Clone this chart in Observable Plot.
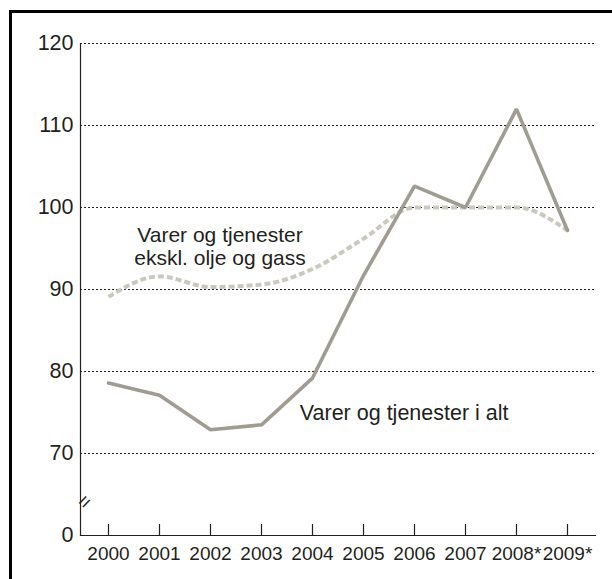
<!DOCTYPE html>
<html><head><meta charset="utf-8">
<script src="https://cdn.jsdelivr.net/npm/d3@7"></script>
<script src="https://cdn.jsdelivr.net/npm/@observablehq/plot@0.6"></script>
<style>
body{margin:0;background:#fff;width:612px;height:579px;overflow:hidden;position:relative;font-family:"Liberation Sans",Arial,sans-serif;}
#chart{position:absolute;left:0;top:0;}
.bt{position:absolute;left:9px;top:10px;width:603px;height:2.5px;background:#000;}
.bl{position:absolute;left:9px;top:10px;width:2.5px;height:569px;background:#000;}
</style></head><body>
<div id="chart"></div><div class="bt"></div><div class="bl"></div>
<script>
const years = ["2000","2001","2002","2003","2004","2005","2006","2007","2008*","2009*"];
const totalValues = [78.6, 77.1, 72.9, 73.5, 79.2, 91.7, 102.6, 100.0, 112.0, 97.2];
const exOilGasValues = [89.1, 91.6, 90.3, 90.6, 92.5, 96.2, 100.0, 100.0, 100.0, 97.2];
const yTicks = [60, 70, 80, 90, 100, 110, 120];
const yTickLabels = ["0", "70", "80", "90", "100", "110", "120"];
const gridValues = [70, 80, 90, 100, 110, 120];
const labelTotal = "Varer og tjenester i alt";
const labelExOilGas = "Varer og tjenester\nekskl. olje og gass";

const total = years.map((y, i) => ({year: y, value: totalValues[i]}));
const exOil = years.map((y, i) => ({year: y, value: exOilGasValues[i]}));
const ink = "#231f20";

const chart = Plot.plot({
  width: 612,
  height: 579,
  marginLeft: 80,
  marginRight: 17,
  marginTop: 43,
  marginBottom: 44,
  style: {background: "#fff", color: ink, fontFamily: '"Liberation Sans", Arial, sans-serif', overflow: "visible"},
  x: {type: "point", domain: years, padding: 0.5},
  y: {domain: [60, 120]},
  marks: [
    Plot.ruleY(gridValues, {stroke: ink, strokeWidth: 1, strokeDasharray: "2,2"}),
    Plot.frame({anchor: "left", stroke: ink, strokeWidth: 1.2}),
    Plot.frame({anchor: "bottom", stroke: ink, strokeWidth: 1.2}),
    Plot.ruleX(years, {x: d => d, y1: 60, y2: 60, insetTop: -11, stroke: ink, strokeWidth: 1.2}),
    Plot.axisY({ticks: yTicks, tickFormat: d => yTickLabels[yTicks.indexOf(d)], tickSize: 0, tickPadding: 7, fontSize: 21.5, label: null}),
    Plot.axisX({tickSize: 0, tickPadding: 11, fontSize: 19, label: null}),
    Plot.text([{y: 63.6}], {y: "y", frameAnchor: "left", text: () => "=", rotate: -45, fontSize: 20, fill: ink}),
    Plot.line(exOil, {x: "year", y: "value", stroke: "#cbc9be", strokeWidth: 4, strokeDasharray: "6,3", strokeLinecap: "butt", curve: "monotone-x"}),
    Plot.line(total, {x: "year", y: "value", stroke: "#a09c91", strokeWidth: 3.6, strokeLinejoin: "miter"}),
    Plot.text([{x: "2002", y: 95.33, t: labelExOilGas}], {x: "x", y: "y", text: "t", dx: 9.5, fontSize: 21, lineHeight: 1.1, fill: ink, textAnchor: "middle"}),
    Plot.text([{x: "2004", y: 74.9, t: labelTotal}], {x: "x", y: "y", text: "t", dx: -12.7, fontSize: 21.5, fill: ink, textAnchor: "start"})
  ]
});
document.getElementById("chart").appendChild(chart);
</script>
</body></html>
